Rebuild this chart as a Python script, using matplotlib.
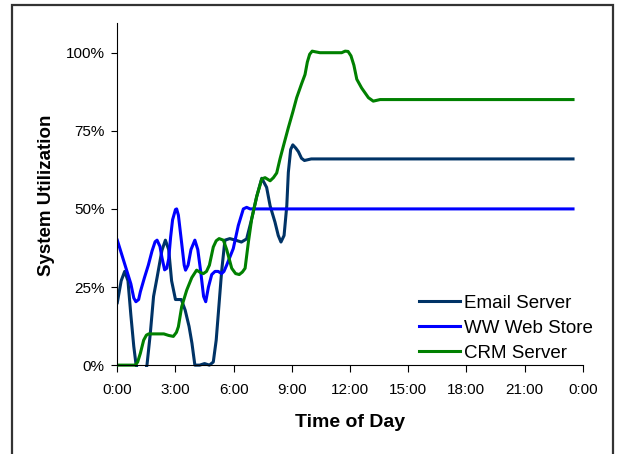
import matplotlib
matplotlib.use("Agg")
import matplotlib.pyplot as plt
from matplotlib.patches import Rectangle

plt.rcParams['font.family'] = ['Liberation Sans', 'DejaVu Sans']

# hours of the day and utilization (%)
email_hours = [0, 0.2, 0.38, 0.55, 0.7, 0.85, 0.97, 1.1, 1.25, 1.4, 1.53, 1.7, 1.87,
               2.05, 2.3, 2.48, 2.65, 2.8, 3.0, 3.3, 3.5, 3.7, 3.85, 4.0, 4.25, 4.5,
               4.75, 4.95, 5.1, 5.21, 5.38, 5.55, 5.8, 6.1, 6.4, 6.67, 6.93, 7.19,
               7.45, 7.7, 7.88, 8.13, 8.3, 8.44, 8.6, 8.74, 8.82, 8.94, 9.05, 9.2,
               9.34, 9.5, 9.65, 10.0, 23.5]
email_util = [20, 27, 30, 27, 16, 6, 0, -3, -4, -3, 0, 10, 22,
              28, 36.7, 40, 37, 27, 21, 21, 17.6, 12.4, 7, 0, 0, 0.5,
              0, 1, 8, 16.6, 30, 40, 40.5, 40, 39.4, 40.4, 46.8, 54,
              59.8, 56.9, 51, 45.8, 41.5, 39.4, 41.5, 51, 61.7, 69, 70.5, 69.5,
              68.3, 66.2, 65.5, 66, 66]

store_hours = [0, 0.25, 0.5, 0.7, 0.85, 0.96, 1.1, 1.19, 1.4, 1.6, 1.79, 1.95, 2.05,
               2.2, 2.3, 2.44, 2.55, 2.65, 2.75, 2.85, 3.0, 3.06, 3.15, 3.32, 3.45,
               3.52, 3.65, 3.8, 4.0, 4.15, 4.3, 4.45, 4.56, 4.7, 4.87, 5.04, 5.2,
               5.38, 5.5, 5.64, 5.98, 6.24, 6.5, 6.67, 6.85, 23.5]
store_util = [40, 35, 30, 26, 21.5, 20.3, 21, 23.5, 28, 32, 36.5, 39.5, 40,
              38, 34.5, 30.5, 31, 34, 41, 46.5, 49.8, 50, 48, 39, 32,
              30.4, 32, 37, 40, 37, 30, 22, 20.3, 25, 29, 30, 30,
              29.3, 30, 32, 37.3, 44.7, 50, 50.5, 50, 50]

crm_hours = [0, 0.5, 0.93, 1.05, 1.19, 1.36, 1.5, 1.62, 2.0, 2.4, 2.65, 2.89, 3.05,
             3.15, 3.32, 3.58, 3.84, 4.09, 4.3, 4.44, 4.6, 4.75, 4.95, 5.1, 5.25,
             5.47, 5.64, 5.9, 6.1, 6.29, 6.45, 6.59, 6.76, 6.93, 7.19, 7.45, 7.62,
             7.88, 8.05, 8.22, 8.39, 8.56, 8.82, 9.05, 9.25, 9.5, 9.68, 9.8, 9.92,
             10.05, 10.2, 10.45, 11.0, 11.57, 11.75, 11.9, 12.05, 12.2, 12.35, 12.6,
             12.95, 13.2, 13.55, 23.5]
crm_util = [0, 0, 0, 1, 3.8, 8, 9.6, 10, 10, 10, 9.5, 9.2, 10.5,
            12.3, 18.7, 24, 28, 30.4, 29.6, 29.3, 30, 32, 37.8, 39.8, 40.5,
            40, 37, 31, 29.3, 29, 29.8, 31, 39.4, 46.8, 54, 59.6, 60,
            59, 60, 61.5, 66, 70, 76, 81, 85.6, 90, 93, 97, 99.5,
            100.5, 100.3, 100, 100, 100, 100.5, 100.4, 99, 96, 91.5, 88.7,
            85.6, 84.5, 85, 85]

x_ticks = [0, 3, 6, 9, 12, 15, 18, 21, 24]
x_tick_labels = ['0:00', '3:00', '6:00', '9:00', '12:00', '15:00', '18:00', '21:00', '0:00']
y_ticks = [0, 25, 50, 75, 100]


def plot_utilization():
    fig = plt.figure(figsize=(6.18, 4.54), dpi=100)
    ax = fig.add_axes([0.1898, 0.1916, 0.7531, 0.7577])

    ax.plot(email_hours, email_util, color='#003366', lw=2.2, label='Email Server')
    ax.plot(store_hours, store_util, color='#0000FF', lw=2.2, label='WW Web Store')
    ax.plot(crm_hours, crm_util, color='#008000', lw=2.2, label='CRM Server')

    ax.set_xlim(0, 24)
    ax.set_ylim(-0.6, 109.5)
    ax.spines['top'].set_visible(False)
    ax.spines['right'].set_visible(False)
    ax.spines['bottom'].set_position(('data', 0))
    ax.spines['left'].set_bounds(0, 109.5)

    ax.set_xticks(x_ticks)
    ax.set_xticklabels(x_tick_labels)
    ax.set_yticks(y_ticks)
    ax.set_yticklabels([f'{v}%' for v in y_ticks])
    ax.tick_params(axis='x', length=5, pad=8, labelsize=11)
    ax.tick_params(axis='y', length=4, pad=5, labelsize=11)

    ax.set_xlabel('Time of Day', fontsize=14, fontweight='bold', va='center')
    ax.xaxis.set_label_coords(0.5, -0.16)
    ax.set_ylabel('System Utilization', fontsize=13.5, fontweight='bold', va='center')
    ax.yaxis.set_label_coords(-0.152, 0.5)

    ax.legend(loc='lower left', bbox_to_anchor=(0.648, 0.0145), frameon=False,
              fontsize=13.5, handlelength=2.2, handletextpad=0.2,
              labelspacing=0.42, borderpad=0, borderaxespad=0)

    # chart border
    fig.patches.append(Rectangle((12 / 618, -0.1), 601 / 618, 1.1 - 5 / 454,
                                 transform=fig.transFigure, fill=False,
                                 edgecolor='#333333', lw=1.6))

    fig.savefig('out.png', dpi=100)


if __name__ == "__main__":
    plot_utilization()
